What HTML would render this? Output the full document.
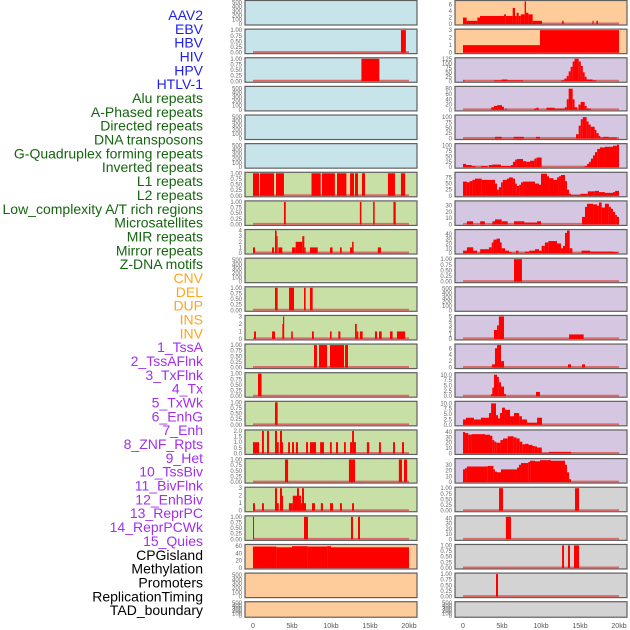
<!DOCTYPE html>
<html><head><meta charset="utf-8">
<style>
html,body{margin:0;padding:0;background:#fff;}
svg{display:block;font-family:"Liberation Sans",sans-serif;}
</style></head>
<body>
<svg id="chart" width="630" height="630" viewBox="0 0 630 630" xmlns="http://www.w3.org/2000/svg"></svg>
<script>
const trackLabels = ["AAV2","EBV","HBV","HIV","HPV","HTLV-1","Alu repeats","A-Phased repeats","Directed repeats","DNA transposons","G-Quadruplex forming repeats","Inverted repeats","L1 repeats","L2 repeats","Low_complexity A/T rich regions","Microsatellites","MIR repeats","Mirror repeats","Z-DNA motifs","CNV","DEL","DUP","INS","INV","1_TssA","2_TssAFlnk","3_TxFlnk","4_Tx","5_TxWk","6_EnhG","7_Enh","8_ZNF_Rpts","9_Het","10_TssBiv","11_BivFlnk","12_EnhBiv","13_ReprPC","14_ReprPCWk","15_Quies","CPGisland","Methylation","Promoters","ReplicationTiming","TAD_boundary"];
const labelGroups = ["v","v","v","v","v","v","r","r","r","r","r","r","r","r","r","r","r","r","r","s","s","s","s","s","c","c","c","c","c","c","c","c","c","c","c","c","c","c","c","o","o","o","o","o"];
const trackMax = [
520,1,1,520,520,520,
1,1,4,520,1,3,1,1,1,2,1,3,1,
62,520,520,
7,3,125,85,105,105,92,36,47,1,520,5,7,10.5,10.5,42,39,
1,43,1,1,520];
const T500 = [0,100,200,300,400,500];
const T1 = ["0.00","0.25","0.50","0.75","1.00"];
const T25 = ["0.0","2.5","5.0","7.5","10.0"];
const trackTicks = [
T500,T1,T1,T500,T500,T500,
T1,T1,[0,1,2,3,4],T500,T1,[0,1,2,3],T1,T1,T1,["0.0","0.5","1.0","1.5","2.0"],T1,[0,1,2,3],T1,
[0,20,40,60],T500,T500,
[0,2,4,6],[0,1,2,3],[0,25,50,75,100,125],[0,20,40,60,80],[0,25,50,75,100],[0,25,50,75,100],[0,25,50,75],[0,10,20,30],[0,10,20,30,40],T1,T500,[0,1,2,3,4,5],[0,2,4,6],T25,T25,[0,10,20,30,40],[0,10,20,30],
T1,[0,10,20,30,40],T1,T1,T500
];
// segments per panel: [startKb, endKb, value]; null = empty panel
const panelSegments = [
null,
[[18.97,19.6,1]],
[[13.9,16.2,1]],
null,null,null,
[[0,0.77,1],[0.9,2.7,1],[2.95,3.97,1],[7.5,8.68,1],[8.85,10.5,1],[10.77,11.97,1],[12.44,12.95,1],[13.08,13.46,1],[13.97,14.36,1],[17.3,18.2,1],[18.97,19.5,1]],
[[3.97,4.2,1],[13.7,13.9,1],[15.4,15.6,1],[18,18.3,1]],
[[0,0.26,1],[2.44,2.7,1],[2.82,3.03,4],[3.03,3.16,3],[3.25,3.76,1],[5,5.47,1],[5.47,6.32,2],[6.32,6.58,3],[6.58,6.75,1],[7.3,8.3,1],[9.87,10.2,1],[11.15,11.37,1],[12.44,12.7,1],[12.7,12.9,2],[16,16.4,1]],
null,
[[2.82,3.16,1],[4.62,5.26,1],[6.54,6.75,1],[7.3,7.65,1]],
[[0.13,0.38,1],[2.44,2.82,1],[3.76,3.85,2],[3.85,4.0,3],[4.9,5.1,1],[7.56,7.8,1],[9.87,10.08,1],[10.94,11.2,1],[13.08,13.3,2],[13.3,13.5,1],[13.7,14.06,1],[15.64,15.9,1],[16.15,16.5,1],[17.56,17.9,1],[18.46,19.5,1]],
[[7.82,8.2,1],[8.46,9.49,1],[9.87,11.67,1],[11.8,12.18,1]],
[[0.64,1.1,1]],
[[2.82,3.16,1]],
[[0,0.77,1],[1.15,1.4,2],[1.8,2.05,2],[2.82,3.08,2],[3.08,3.3,1],[3.46,3.72,2],[3.72,3.85,1],[4.5,4.74,1],[5,5.26,1],[5.5,5.77,1],[6.8,7.05,1],[7.3,8.08,1],[8.6,9.1,1],[9.87,10.1,1],[10.64,10.9,1],[11.67,11.9,1],[12.44,12.7,1],[12.7,12.95,2],[12.95,13.2,1],[14.6,14.9,1],[16.15,16.4,1],[17.95,18.2,1],[19.1,19.36,1]],
[[4.1,4.5,1],[12.3,13.08,1],[18.7,19.1,1],[19.36,19.74,1]],
[[0,0.26,1],[1.15,1.4,1],[2.82,3.08,3],[3.08,3.3,1],[3.46,3.72,3],[3.72,3.85,2],[4.6,5.1,1],[5.1,5.64,2],[5.64,5.9,3],[5.9,6.15,2],[6.15,6.28,1],[6.28,6.54,3],[6.54,6.8,1],[7.56,7.95,1],[8.7,8.97,1],[9.87,10.26,1],[11.15,11.4,1],[12.7,12.95,1]],
[[0,0.13,1],[6.54,7.05,1],[12.56,12.82,1],[13.46,13.72,1]],
[[0,3,59],[3,5,57],[5,7,60],[7,9.5,59],[9.5,10,60],[10,20,57]],
null,null,
[[0,0.47,2],[0.47,1.84,1],[1.84,2.18,2],[2.18,5.26,2.5],[5.26,5.5,3],[5.5,6.37,2.5],[6.37,6.67,5],[6.67,6.88,2.5],[6.88,7.14,3.5],[7.14,7.4,2.5],[7.4,7.9,3],[7.9,8.08,7],[8.08,8.38,3.5],[8.38,8.93,3],[8.93,10.13,1],[12.7,12.9,1],[16.6,16.75,1],[17.1,17.3,1]],
[[0,9.87,1],[9.87,20,3]],
[[0,0.2,5],[3.97,4.96,5],[4.96,5.7,10],[5.7,7.7,5],[12.6,12.99,5],[12.99,13.3,15],[13.3,13.55,30],[13.55,13.8,55],[13.8,14.06,80],[14.06,14.3,110],[14.3,14.83,125],[14.83,15.1,110],[15.1,15.36,85],[15.36,15.6,50],[15.6,15.85,25],[15.85,16.6,10],[16.6,17.1,5]],
[[3.63,3.97,10],[3.97,4.4,15],[4.4,5,18],[5,5.25,12],[5.4,5.6,5],[9.1,9.4,5],[9.4,9.7,8],[10.7,11.75,8],[11.75,12.78,5],[12.78,13.05,5],[13.05,13.3,10],[13.3,13.55,40],[13.55,14.06,80],[14.06,14.3,40],[14.3,14.66,10],[14.8,15.08,20],[15.08,15.6,30],[15.6,15.85,15],[15.85,16.4,5]],
[[4.1,4.96,8],[6.5,7.8,8],[9.36,9.87,8],[14.49,14.83,20],[14.83,15.1,60],[15.1,15.36,90],[15.36,15.85,100],[15.85,16.1,80],[16.1,16.37,65],[16.37,16.88,55],[16.88,17.1,40],[17.1,17.4,25],[17.4,17.6,12],[17.6,17.99,5],[17.99,18.67,8],[18.67,19.7,5]],
[[0,0.4,15],[0.4,1.1,10],[1.1,1.6,5],[2.3,3.16,5],[3.33,3.76,10],[3.76,4.87,12],[4.87,6.15,5],[6.15,6.4,10],[6.4,6.67,25],[6.67,6.9,35],[6.9,7.7,38],[7.7,8.1,28],[8.1,8.6,25],[8.6,9.15,30],[9.15,9.44,40],[9.44,10.08,45],[15.6,15.9,5],[15.9,16.15,15],[16.15,16.4,25],[16.4,16.67,40],[16.67,16.92,55],[16.92,17.2,70],[17.2,17.56,85],[17.56,18.2,92],[18.2,19.23,95],[19.23,19.74,100],[19.74,20,105]],
[[0,0.5,58],[0.5,0.85,55],[0.85,1.2,60],[1.2,1.54,65],[1.54,2.4,70],[2.4,4.1,65],[4.1,4.36,50],[4.36,4.6,25],[4.6,4.87,35],[4.87,5.1,55],[5.1,5.64,65],[5.64,5.9,70],[5.9,6.4,75],[6.4,6.67,70],[6.67,6.9,50],[6.9,7.2,40],[7.2,7.44,45],[7.44,7.7,55],[7.7,9.23,58],[9.23,9.74,50],[9.74,10,45],[10,10.77,90],[10.77,11.03,80],[11.03,11.6,72],[11.6,12.05,65],[12.05,12.3,75],[12.3,12.56,80],[12.56,13.08,85],[13.08,13.33,60],[13.33,13.6,25],[13.6,13.85,8],[13.85,15.04,3],[15.04,16,8],[16,16.9,18],[16.9,17.43,20],[17.43,18.2,15],[18.2,19.23,12],[19.23,19.5,15],[19.5,20,20]],
[[0.5,1.3,5],[2.2,2.8,5],[3.76,4.1,5],[4.1,4.96,8],[4.96,5.73,5],[6.54,7.86,5],[7.86,9.5,3],[9.5,10,5],[15.26,15.64,12],[15.64,15.9,28],[15.9,16.67,33],[16.67,17.18,32],[17.18,17.43,30],[17.43,17.78,35],[17.78,18.2,27],[18.2,18.7,33],[18.7,18.97,28],[18.97,19.23,25],[19.23,19.5,20],[19.5,19.74,15],[19.74,20,12]],
[[0,0.5,5],[0.5,1.3,12],[1.3,1.8,5],[2.2,3.33,8],[3.33,3.68,12],[3.68,3.9,22],[3.9,4.3,28],[4.3,4.74,30],[4.74,4.96,22],[4.96,5.4,10],[5.4,5.9,5],[5.9,6.24,2],[6.8,7.1,5],[7.95,8.5,3],[8.5,9.23,5],[9.23,9.74,8],[9.74,10.08,5],[10.08,10.5,15],[10.5,10.94,22],[10.94,12.05,25],[12.05,12.56,20],[12.56,12.82,10],[12.82,13.08,15],[13.08,13.33,42],[13.33,13.68,47],[13.68,14.02,10],[15.2,16.3,5],[16.3,19.23,3],[19.23,19.8,2]],
[[6.54,7.56,1]],
null,
[[3.97,4.36,2],[4.36,4.6,3],[4.6,5.26,5],[13.6,15.47,1]],
[[3.72,4.1,1],[4.1,4.36,6],[4.36,4.87,7],[4.87,5.26,2],[13.46,13.85,1],[15.26,15.64,1]],
[[3.6,3.76,1],[3.76,3.97,4],[3.97,4.36,10],[4.36,4.6,9],[4.6,4.87,6.5],[4.87,5.26,4.5],[5.26,5.5,1],[9.36,9.87,2]],
[[0,0.38,2.5],[0.38,1.4,3.3],[1.4,2.3,2.5],[2.3,3.33,3.3],[3.33,3.6,5.5],[3.6,4.23,10],[4.23,4.49,4.5],[4.49,4.74,3],[4.74,5,5.5],[5,5.38,8],[5.38,6.03,7],[6.03,6.54,4],[6.54,7.2,5.5],[7.2,7.56,4],[7.56,8.2,2.5],[8.2,9.5,1],[9.5,10.13,3.3]],
[[0,0.26,40],[0.26,0.68,38],[0.68,1.1,35],[1.1,2.82,36],[2.82,3.46,35],[3.46,3.76,33],[3.76,4,25],[4,4.27,22],[4.27,4.8,20],[4.8,5.13,25],[5.13,5.73,28],[5.73,6.5,32],[6.5,6.84,30],[6.84,7.26,28],[7.26,7.6,22],[7.6,7.95,17],[7.95,8.4,18],[8.4,8.9,16],[8.9,9.2,14],[9.2,9.5,13],[9.5,10.1,11],[10.1,11,1],[11,13.85,3]],
[[0,0.26,22],[0.26,0.5,24],[0.5,3.16,27],[3.16,3.9,28],[3.9,4.1,22],[4.1,4.36,18],[4.36,4.87,17],[4.87,6.92,22],[6.92,7.18,25],[7.18,7.44,30],[7.44,8.38,33],[8.38,8.6,35],[8.6,9.23,37],[9.23,9.87,36],[9.87,11.28,38],[11.28,13.08,37],[13.08,13.33,30],[13.33,13.6,17],[13.6,13.85,5]],
[[4.62,5.13,1],[14.36,14.87,1]],
[[5.5,6.15,43]],
[[12.7,12.95,1],[13.46,13.72,1],[14.23,14.87,1]],
[[4.23,4.49,1]],
null
];
const xTickValues = [0,5,10,15,20];
const xTickLabels = ["0","5kb","10kb","15kb","20kb"];

const NS = "http://www.w3.org/2000/svg";
const svg = document.getElementById("chart");
const groupColor = {v:"#1f1fe8", r:"#15650f", s:"#ffa51c", c:"#a12ff0", o:"#000"};
function bgFor(i){
  if (i<6) return "#c8e4eb";
  if (i<19) return "#c8e0a5";
  if (i<24) return "#fecc9b";
  if (i<39) return "#d5c6e1";
  return "#d3d3d3";
}
function mk(tag, attrs){ const e=document.createElementNS(NS,tag); for(const k in attrs) e.setAttribute(k,attrs[k]); return e; }

trackLabels.forEach((t,i)=>{
  const el = mk("text",{x:203,y:15+i*13.84+5,"text-anchor":"end","font-size":"14",fill:groupColor[labelGroups[i]]});
  el.textContent = t;
  
  
  svg.appendChild(el);
});

const PW = 172;
function xScale(left, kb){ return left + 8 + kb*7.8; }

for (let i=0;i<44;i++){
  const col = i<22 ? 0 : 1;
  const row = i % 22;
  const left = col===0 ? 245 : 455;
  const top = 0.5 + row*28.63;
  const h = row===21 ? 15.5 : 24.5;
  const g = mk("g",{});
  
  
  svg.appendChild(g);
  const r = mk("rect",{x:left,y:top,width:PW,height:h,fill:bgFor(i),stroke:"#5f5f5f","stroke-width":"1.2"});
  
  
  g.appendChild(r);
  const ymax = trackMax[i];
  const y0 = top + h - 1, yr = h - 2;
  const yScale = v => y0 - v/ymax*yr;
  const segs = panelSegments[i];
  if (segs){
    const bl = mk("line",{x1:xScale(left,0),x2:xScale(left,20),y1:y0-0.5,y2:y0-0.5,stroke:"#d96a6a","stroke-width":"2"});
    
    
    g.appendChild(bl);
    segs.forEach(s=>{
      const x1 = xScale(left,s[0]), x2 = xScale(left,s[1]);
      const yy = yScale(s[2]);
      const b = mk("rect",{x:x1,y:yy,width:Math.max(1,x2-x1),height:y0-yy,fill:"#ff0000"});
      
      
      g.appendChild(b);
    });
  }
  trackTicks[i].forEach(tk=>{
    const v = parseFloat(tk);
    const ty = yScale(v);
    const t = mk("text",{x:left-3,y:ty+2,"text-anchor":"end","font-size":"6",fill:"#666"});
    t.textContent = String(tk);
    
    
    g.appendChild(t);
  });
}
[245,455].forEach(left=>{
  xTickValues.forEach((v,j)=>{
    const t = mk("text",{x:xScale(left,v),y:628,"text-anchor":"middle","font-size":"7",fill:"#555"});
    t.textContent = xTickLabels[j];
    
    
    svg.appendChild(t);
  });
});
</script>
</body></html>
